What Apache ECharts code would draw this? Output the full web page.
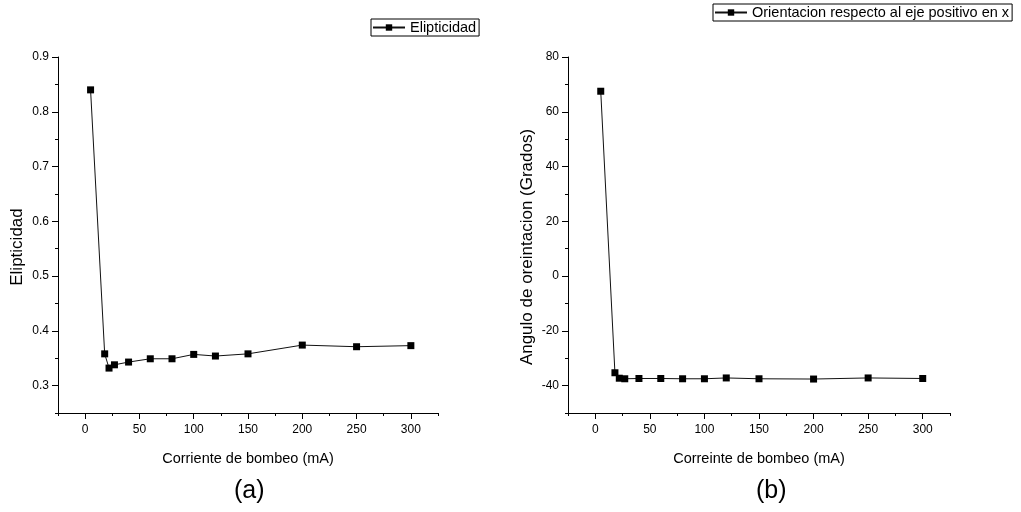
<!DOCTYPE html>
<html>
<head>
<meta charset="utf-8">
<script src="https://cdn.jsdelivr.net/npm/echarts@6/dist/echarts.min.js"></script>
<style>
html,body{margin:0;padding:0;background:#fff;}
#c{width:1021px;height:512px;}
</style>
</head>
<body>
<div id="c"></div>
<script>
// ---- data ----
const currentA = [5, 18, 22, 27, 40, 60, 80, 100, 120, 150, 200, 250, 300];
const ellipticity = [0.840, 0.358, 0.332, 0.338, 0.343, 0.349, 0.349, 0.357, 0.354, 0.358, 0.374, 0.371, 0.373];
const currentB = [5, 18, 22, 27, 40, 60, 80, 100, 120, 150, 200, 250, 300];
const angle = [67.5, -35.3, -37.3, -37.5, -37.4, -37.4, -37.5, -37.5, -37.2, -37.5, -37.6, -37.2, -37.4];
const nameA = 'Elipticidad';
const nameB = 'Orientacion respecto al eje positivo en x';
const xTitleA = 'Corriente de bombeo (mA)';
const xTitleB = 'Correinte de bombeo (mA)';
const yTitleA = 'Elipticidad';
const yTitleB = 'Angulo de oreintacion (Grados)';
const panelA = '(a)';
const panelB = '(b)';
// axis ranges / tick steps
const xRange = [-25, 325], xLabelRange = [0, 300], xMajor = 50, xMinor = 25;
const yRangeA = [0.25, 0.9], yLabelRangeA = [0.3, 0.9], yMajorA = 0.1, yMinorA = 0.05;
const yRangeB = [-50, 80], yLabelRangeB = [-40, 80], yMajorB = 20, yMinorB = 10;

const FONT = 'Liberation Sans, Arial, sans-serif';
const black = '#000';

function pairs(xs, ys){ return xs.map((x,i)=>[x, ys[i]]); }

// panel geometry (pixels)
const panels = [
  {left:58, top:57, width:380, height:356},
  {left:568, top:57, width:382, height:356}
];
function gridsFor(p, yR, yLR){
  const xs = p.width / (xRange[1]-xRange[0]);
  const ys = p.height / (yR[1]-yR[0]);
  return [
    {left:p.left, top:p.top, width:p.width, height:p.height},
    {left:p.left + (xLabelRange[0]-xRange[0])*xs, top:p.top, width:(xLabelRange[1]-xLabelRange[0])*xs, height:p.height},
    {left:p.left, top:p.top + (yR[1]-yLR[1])*ys, width:p.width, height:(yLR[1]-yLR[0])*ys}
  ];
}
const grids = gridsFor(panels[0], yRangeA, yLabelRangeA).concat(gridsFor(panels[1], yRangeB, yLabelRangeB));

function hidden(type, g){ return {type:'value', gridIndex:g, show:false, min:0, max:1}; }

function mainX(g, name){
  return {
    type:'value', gridIndex:g, min:xRange[0], max:xRange[1], interval:xMinor, position:'bottom',
    name:name, nameLocation:'middle', nameGap:38,
    nameTextStyle:{fontFamily:FONT, fontSize:14.5, color:black},
    axisLine:{show:true, onZero:false, lineStyle:{color:black, width:1}},
    axisTick:{show:true, length:3, lineStyle:{color:black}},
    axisLabel:{show:false}, splitLine:{show:false}
  };
}
function labelX(g){
  return {
    type:'value', gridIndex:g, min:xLabelRange[0], max:xLabelRange[1], interval:xMajor, position:'bottom',
    axisLine:{show:false, onZero:false},
    axisTick:{show:true, length:6, lineStyle:{color:black}},
    axisLabel:{fontFamily:FONT, fontSize:12, color:black, margin:11},
    splitLine:{show:false}
  };
}
function mainY(g, r, minor, name){
  return {
    type:'value', gridIndex:g, min:r[0], max:r[1], interval:minor, position:'left',
    name:name, nameLocation:'middle', nameGap:32,
    nameTextStyle:{fontFamily:FONT, fontSize:17, color:black, padding:[0,24,0,0]},
    axisLine:{show:true, onZero:false, lineStyle:{color:black, width:1}},
    axisTick:{show:true, length:3, lineStyle:{color:black}},
    axisLabel:{show:false}, splitLine:{show:false}
  };
}
function labelY(g, r, major, fmt){
  return {
    type:'value', gridIndex:g, min:r[0], max:r[1], interval:major, position:'left',
    axisLine:{show:false, onZero:false},
    axisTick:{show:true, length:6, lineStyle:{color:black}},
    axisLabel:{fontFamily:FONT, fontSize:12, color:black, margin:9, formatter:fmt},
    splitLine:{show:false}
  };
}

const seriesStyle = {
  type:'line', symbol:'rect', symbolSize:7,
  itemStyle:{color:black},
  lineStyle:{color:'#111', width:1},
  emphasis:{disabled:true}
};

const chart = echarts.init(document.getElementById('c'), null, {renderer:'canvas'});
chart.setOption({
  animation:false,
  backgroundColor:'#fff',
  textStyle:{fontFamily:FONT},
  grid:grids,
  xAxis:[
    mainX(0, xTitleA), labelX(1), hidden('x', 2),
    mainX(3, xTitleB), labelX(4), hidden('x', 5)
  ],
  yAxis:[
    mainY(0, yRangeA, yMinorA, yTitleA), hidden('y', 1), labelY(2, yLabelRangeA, yMajorA, v => v.toFixed(1)),
    mainY(3, yRangeB, yMinorB, yTitleB), hidden('y', 4), labelY(5, yLabelRangeB, yMajorB, v => String(v))
  ],
  legend:[
    {data:[nameA], left:371, top:19, orient:'horizontal', padding:[1,3,1,1],
     borderColor:black, borderWidth:1, itemWidth:32, itemHeight:8, itemGap:4,
     textStyle:{fontFamily:FONT, fontSize:14.5, color:black}, selectedMode:false},
    {data:[nameB], left:713, top:4, orient:'horizontal', padding:[1,3,1,1],
     borderColor:black, borderWidth:1, itemWidth:32, itemHeight:8, itemGap:4,
     textStyle:{fontFamily:FONT, fontSize:14.5, color:black}, selectedMode:false}
  ],
  title:[
    {text:panelA, left:234, top:479, padding:0, textStyle:{fontFamily:FONT, fontSize:25, fontWeight:'normal', color:black}},
    {text:panelB, left:756, top:479, padding:0, textStyle:{fontFamily:FONT, fontSize:25, fontWeight:'normal', color:black}}
  ],
  series:[
    Object.assign({name:nameA, xAxisIndex:0, yAxisIndex:0, data:pairs(currentA, ellipticity)}, seriesStyle),
    Object.assign({name:nameB, xAxisIndex:3, yAxisIndex:3, data:pairs(currentB, angle)}, seriesStyle)
  ]
});
</script>
</body>
</html>
